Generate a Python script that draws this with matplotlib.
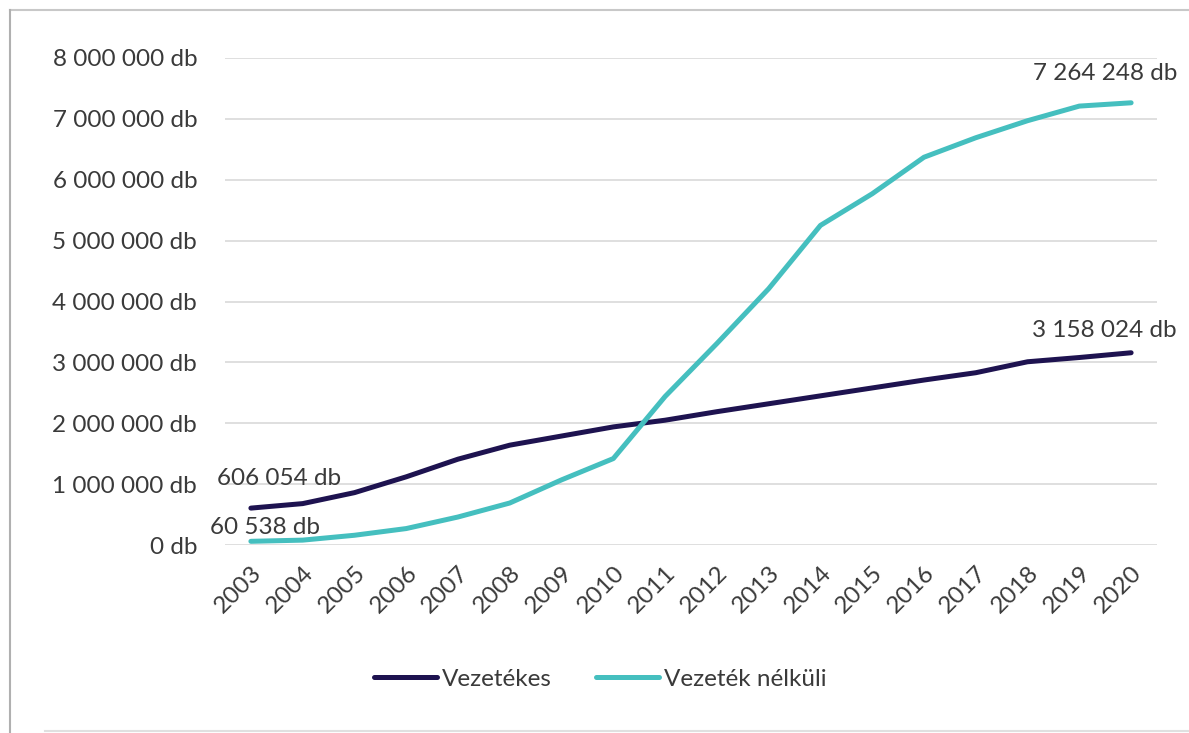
import matplotlib
matplotlib.use("Agg")
import matplotlib.pyplot as plt
from matplotlib.lines import Line2D
from matplotlib.ticker import FuncFormatter

years = ["2003", "2004", "2005", "2006", "2007", "2008", "2009", "2010", "2011",
         "2012", "2013", "2014", "2015", "2016", "2017", "2018", "2019", "2020"]
vezetekes = [606054, 680000, 860000, 1120000, 1410000, 1640000, 1790000, 1940000,
             2050000, 2190000, 2320000, 2450000, 2580000, 2710000, 2830000,
             3010000, 3080000, 3158024]
vezetek_nelkuli = [60538, 80000, 160000, 270000, 460000, 690000, 1070000, 1420000,
                   2440000, 3310000, 4210000, 5250000, 5770000, 6370000, 6690000,
                   6970000, 7210000, 7264248]
series_names = ["Vezetékes", "Vezeték nélküli"]
y_ticks = [0, 1000000, 2000000, 3000000, 4000000, 5000000, 6000000, 7000000, 8000000]

DARK = "#1e1350"
TEAL = "#45bfbf"
TEXT = "#3a3a3a"
GRID = "#d9d9d9"
FS = 17.5

plt.rcParams["font.family"] = ["Lato", "DejaVu Sans"]


def fmt_db(v):
    s = f"{int(round(v)):,}".replace(",", " ")
    return f"{s} db"


fig = plt.figure(figsize=(11.89, 7.33), dpi=100)
ax = fig.add_axes([225 / 1189, 1 - 545 / 733, (1157 - 225) / 1189, (545 - 58) / 733])

x = list(range(len(years)))
ax.plot(x, vezetekes, color=DARK, lw=3.6, solid_joinstyle="round",
        solid_capstyle="round", label=series_names[0], zorder=3)
ax.plot(x, vezetek_nelkuli, color=TEAL, lw=3.6, solid_joinstyle="round",
        solid_capstyle="round", label=series_names[1], zorder=3)

ax.set_xlim(-0.5, len(years) - 0.5)
ax.set_ylim(0, 8000000)
ax.set_yticks(y_ticks)
ax.yaxis.set_major_formatter(FuncFormatter(lambda v, p: fmt_db(v)))
ax.set_xticks(x)
ax.set_xticklabels(years, rotation=45, ha="right", va="top", rotation_mode="anchor")

ax.grid(axis="y", color=GRID, lw=1.2)
ax.set_axisbelow(True)
for sp in ax.spines.values():
    sp.set_visible(False)
ax.tick_params(axis="both", length=0, colors=TEXT, labelsize=FS)
ax.tick_params(axis="y", pad=20)
ax.tick_params(axis="x", pad=12)

# value labels at the first and last points of each series
ann_kw = dict(textcoords="offset points", ha="center", va="center",
              fontsize=FS, color=TEXT, zorder=4)
ax.annotate(fmt_db(vezetekes[0]), (x[0], vezetekes[0]), xytext=(20, 21), **ann_kw)
ax.annotate(fmt_db(vezetek_nelkuli[0]), (x[0], vezetek_nelkuli[0]), xytext=(10, 10), **ann_kw)
ax.annotate(fmt_db(vezetekes[-1]), (x[-1], vezetekes[-1]), xytext=(-19, 16), **ann_kw)
ax.annotate(fmt_db(vezetek_nelkuli[-1]), (x[-1], vezetek_nelkuli[-1]), xytext=(-19, 21), **ann_kw)

leg = fig.legend(loc="center", bbox_to_anchor=(600 / 1189, 1 - 679 / 733), ncol=2,
                 frameon=False, fontsize=FS, handlelength=2.6, handletextpad=0.2,
                 columnspacing=1.8)
for t in leg.get_texts():
    t.set_color(TEXT)

# chart frame
fig.add_artist(Line2D([10 / 1189, 1], [1 - 10 / 733, 1 - 10 / 733],
                      transform=fig.transFigure, color="#c8c8c8", lw=1.5))
fig.add_artist(Line2D([10 / 1189, 10 / 1189], [1 - 10 / 733, 0],
                      transform=fig.transFigure, color="#b0b0b0", lw=1.5))
fig.add_artist(Line2D([45 / 1189, 1], [1 - 731 / 733, 1 - 731 / 733],
                      transform=fig.transFigure, color="#e0e0e0", lw=1.5))

fig.savefig("out.png", dpi=100)
